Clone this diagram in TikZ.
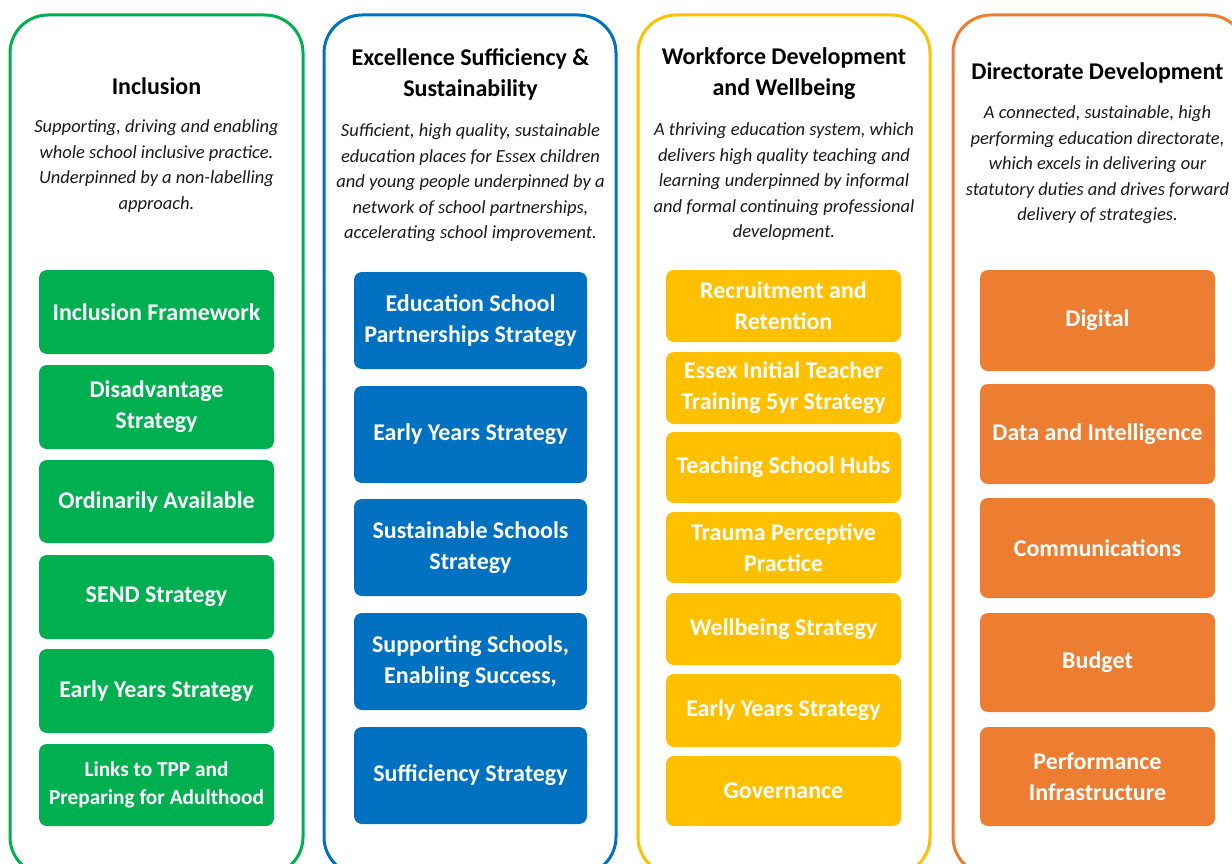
\documentclass[tikz,border=0pt]{standalone}
\usepackage{fontspec}
\setmainfont{Carlito}
\definecolor{cgreen}{HTML}{00B050}
\definecolor{cblue}{HTML}{0070C0}
\definecolor{cyellow}{HTML}{FFC000}
\definecolor{corange}{HTML}{ED7D31}
\begin{document}
\begin{tikzpicture}[x=1pt,y=-1pt,
  frame/.style={line width=3pt, rounded corners=38pt},
  ttl/.style={font=\fontsize{24}{31}\selectfont\bfseries, align=center, inner sep=0pt, text=black},
  dsc/.style={font=\fontsize{18.5}{25.5}\selectfont\itshape, align=center, inner sep=0pt, text=black!90},
  tile/.style={rounded corners=8pt, text=white, inner sep=0pt, align=center,
     font=\fontsize{24}{31}\selectfont\bfseries, minimum width=235pt},
  gtile/.style={tile, fill=cgreen},
  btile/.style={tile, fill=cblue, minimum width=233pt, minimum height=97pt},
  ytile/.style={tile, fill=cyellow, minimum height=72pt},
  otile/.style={tile, fill=corange, minimum height=100pt}]
\useasboundingbox (0,0) rectangle (1232,864);
\clip (0,0) rectangle (1232,864);
% column frames
\draw[frame, cgreen] (10,15) rectangle (303,875);
\draw[frame, cblue] (324,15) rectangle (616,875);
\draw[frame, cyellow] (638,15) rectangle (930,875);
\draw[frame, corange] (953,15) rectangle (1246,875);
% column 1
\node[ttl] (t1) at (156.5,86) {Inclusion};
\node[dsc] (d1) at (156.5,166) {Supporting, driving and enabling\\whole school inclusive practice.\\Underpinned by a non-labelling\\approach.};
\node[gtile, minimum height=84pt] (g1) at (156.5,312) {Inclusion Framework};
\node[gtile, minimum height=84pt] (g2) at (156.5,407) {Disadvantage\\Strategy};
\node[gtile, minimum height=83pt] (g3) at (156.5,501.5) {Ordinarily Available};
\node[gtile, minimum height=84pt] (g4) at (156.5,597) {SEND Strategy};
\node[gtile, minimum height=84pt] (g5) at (156.5,691) {Early Years Strategy};
\node[gtile, minimum height=82pt, font=\fontsize{21.3}{28}\selectfont\bfseries] (g6) at (156.5,785) {Links to TPP and\\Preparing for Adulthood};
% column 2
\node[ttl] (t2) at (470.5,74) {Excellence Sufficiency \&\\Sustainability};
\node[dsc] (d2) at (470.5,183) {Sufficient, high quality, sustainable\\education places for Essex children\\and young people underpinned by a\\network of school partnerships,\\accelerating school improvement.};
\node[btile] (b1) at (470.5,320.5) {Education School\\Partnerships Strategy};
\node[btile] (b2) at (470.5,434.5) {Early Years Strategy};
\node[btile] (b3) at (470.5,547.5) {Sustainable Schools\\Strategy};
\node[btile] (b4) at (470.5,661.5) {Supporting Schools,\\Enabling Success,};
\node[btile] (b5) at (470.5,775.5) {Sufficiency Strategy};
% column 3
\node[ttl] (t3) at (784,74) {Workforce Development\\and Wellbeing};
\node[dsc] (d3) at (784,182) {A thriving education system, which\\delivers high quality teaching and\\learning underpinned by informal\\and formal continuing professional\\development.};
\node[ytile] (y1) at (783.5,306) {Recruitment and\\Retention};
\node[ytile] (y2) at (783.5,388) {Essex Initial Teacher\\Training 5yr Strategy};
\node[ytile, minimum height=71pt] (y3) at (783.5,467.5) {Teaching School Hubs};
\node[ytile, minimum height=71pt] (y4) at (783.5,547.5) {Trauma Perceptive\\Practice};
\node[ytile] (y5) at (783.5,629) {Wellbeing Strategy};
\node[ytile, minimum height=73pt] (y6) at (783.5,710.5) {Early Years Strategy};
\node[ytile, minimum height=70pt] (y7) at (783.5,791) {Governance};
% column 4
\node[ttl] (t4) at (1097.5,73) {Directorate Development};
\node[dsc] (d4) at (1097.5,165) {A connected, sustainable, high\\performing education directorate,\\which excels in delivering our\\statutory duties and drives forward\\delivery of strategies.};
\node[otile, minimum height=101pt] (o1) at (1097.5,320.5) {Digital};
\node[otile] (o2) at (1097.5,434) {Data and Intelligence};
\node[otile] (o3) at (1097.5,548) {Communications};
\node[otile, minimum height=99pt] (o4) at (1097.5,662.5) {Budget};
\node[otile, minimum height=99pt] (o5) at (1097.5,776.5) {Performance\\Infrastructure};
\end{tikzpicture}
\end{document}
